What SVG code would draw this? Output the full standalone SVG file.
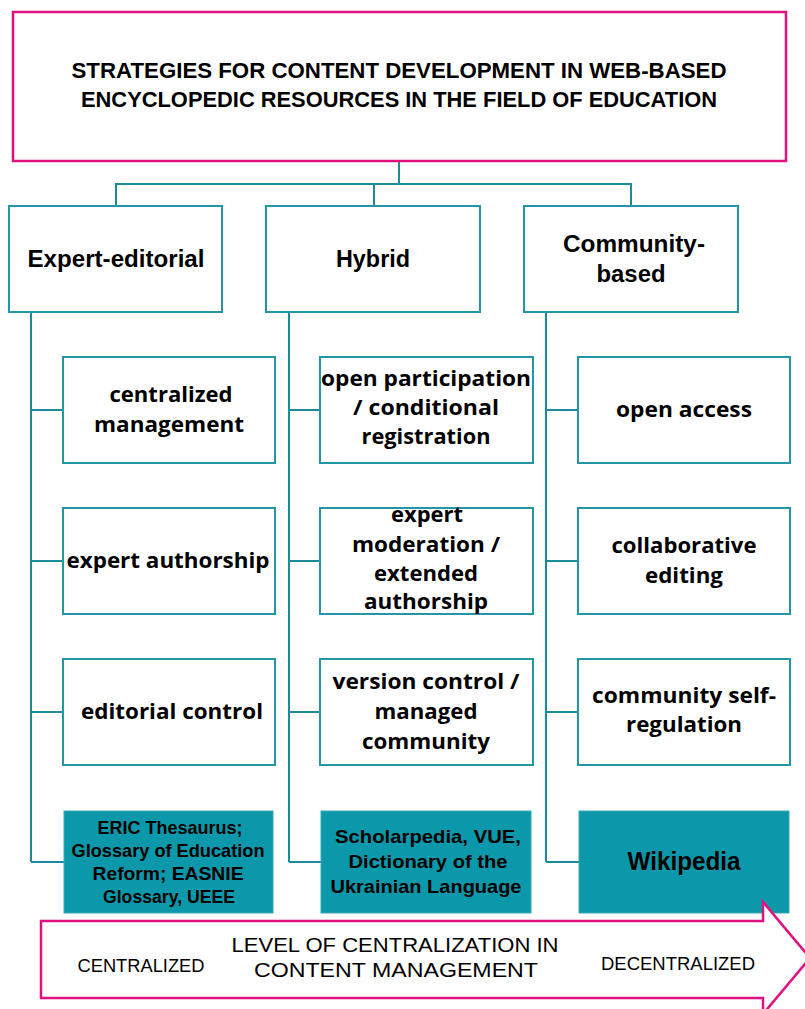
<svg xmlns="http://www.w3.org/2000/svg" width="805" height="1009" viewBox="0 0 805 1009">
  <style>
    .bg { fill: #ffffff; }
    .frame { fill: #ffffff; stroke: #e3117f; stroke-width: 2.5; }
    .box { fill: #ffffff; stroke: #2396a5; stroke-width: 2; }
    .tealbox { fill: #0b98aa; stroke: #3aa9b7; stroke-width: 1; }
    .wire { fill: none; stroke: #1a8b97; stroke-width: 2; }
    .head { font-family: "Liberation Sans", Arial, sans-serif; font-weight: bold; fill: #000; text-anchor: middle; }
    .item { font-family: "Open Sans", "Liberation Sans", sans-serif; font-weight: bold; font-size: 21px; fill: #000; text-anchor: middle; }
    .ex { font-family: "Liberation Sans", Arial, sans-serif; font-weight: bold; font-size: 19px; fill: #000; text-anchor: middle; }
    .ex.big { font-size: 25px; }
    .scale { font-family: "Liberation Sans", Arial, sans-serif; fill: #000; text-anchor: middle; }
  </style>

  <rect class="bg" x="0" y="0" width="805" height="1009"/>

  <!-- connectors -->
  <g id="connectors">
    <path class="wire" d="M399 162 V184 M116 184 H631 M116 183 V206 M374 184 V206 M631 183 V206"/>
    <path class="wire" d="M31 312 V862 M31 410 H63 M31 561 H63 M31 712 H63 M31 862 H64"/>
    <path class="wire" d="M289 312 V862 M289 410 H320 M289 561 H320 M289 712 H320 M289 862 H321"/>
    <path class="wire" d="M546 312 V862 M546 410 H578 M546 561 H578 M546 712 H578 M546 862 H579"/>
  </g>

  <!-- root -->
  <g id="root">
    <rect class="frame" x="13" y="12" width="773" height="149"/>
    <text class="head" font-size="22.5" x="399" y="78" textLength="655" lengthAdjust="spacingAndGlyphs">STRATEGIES FOR CONTENT DEVELOPMENT IN WEB-BASED</text>
    <text class="head" font-size="22.5" x="399" y="107" textLength="636" lengthAdjust="spacingAndGlyphs">ENCYCLOPEDIC RESOURCES IN THE FIELD OF EDUCATION</text>
  </g>

  <!-- strategy categories -->
  <g id="expert-editorial">
    <rect class="box" x="9" y="206" width="213" height="106"/>
    <text class="head" font-size="23" x="116" y="267" textLength="177" lengthAdjust="spacingAndGlyphs">Expert-editorial</text>
  </g>
  <g id="hybrid">
    <rect class="box" x="266" y="206" width="214" height="106"/>
    <text class="head" font-size="23" x="373" y="267" textLength="74" lengthAdjust="spacingAndGlyphs">Hybrid</text>
  </g>
  <g id="community-based">
    <rect class="box" x="524" y="206" width="214" height="106"/>
    <text class="head" font-size="23" x="634" y="252" textLength="142" lengthAdjust="spacingAndGlyphs">Community-</text>
    <text class="head" font-size="23" x="631" y="282" textLength="69" lengthAdjust="spacingAndGlyphs">based</text>
  </g>

  <!-- expert-editorial features -->
  <g id="centralized-management">
    <rect class="box" x="63" y="357" width="212" height="106"/>
    <text class="item" x="171" y="402" textLength="123" lengthAdjust="spacingAndGlyphs">centralized</text>
    <text class="item" x="169" y="432" textLength="150" lengthAdjust="spacingAndGlyphs">management</text>
  </g>
  <g id="expert-authorship">
    <rect class="box" x="63" y="508" width="212" height="106"/>
    <text class="item" x="168" y="568" textLength="203" lengthAdjust="spacingAndGlyphs">expert authorship</text>
  </g>
  <g id="editorial-control">
    <rect class="box" x="63" y="659" width="212" height="106"/>
    <text class="item" x="172" y="719" textLength="182" lengthAdjust="spacingAndGlyphs">editorial control</text>
  </g>
  <g id="eric-thesaurus">
    <rect class="tealbox" x="64" y="811" width="209" height="102"/>
    <text class="ex" x="170" y="834" textLength="145" lengthAdjust="spacingAndGlyphs">ERIC Thesaurus;</text>
    <text class="ex" x="168" y="857" textLength="193" lengthAdjust="spacingAndGlyphs">Glossary of Education</text>
    <text class="ex" x="168" y="880" textLength="151" lengthAdjust="spacingAndGlyphs">Reform; EASNIE</text>
    <text class="ex" x="169" y="903" textLength="132" lengthAdjust="spacingAndGlyphs">Glossary, UEEE</text>
  </g>

  <!-- hybrid features -->
  <g id="open-participation">
    <rect class="box" x="320" y="357" width="213" height="106"/>
    <text class="item" x="426" y="386" textLength="210" lengthAdjust="spacingAndGlyphs">open participation</text>
    <text class="item" x="426" y="415" textLength="146" lengthAdjust="spacingAndGlyphs">/ conditional</text>
    <text class="item" x="426" y="444" textLength="129" lengthAdjust="spacingAndGlyphs">registration</text>
  </g>
  <g id="expert-moderation">
    <rect class="box" x="320" y="508" width="213" height="106"/>
    <text class="item" x="427" y="522" textLength="72" lengthAdjust="spacingAndGlyphs">expert</text>
    <text class="item" x="426" y="552" textLength="148" lengthAdjust="spacingAndGlyphs">moderation /</text>
    <text class="item" x="426" y="581" textLength="104" lengthAdjust="spacingAndGlyphs">extended</text>
    <text class="item" x="426" y="609" textLength="124" lengthAdjust="spacingAndGlyphs">authorship</text>
  </g>
  <g id="version-control">
    <rect class="box" x="320" y="659" width="213" height="106"/>
    <text class="item" x="426" y="689" textLength="187" lengthAdjust="spacingAndGlyphs">version control /</text>
    <text class="item" x="426" y="719" textLength="103" lengthAdjust="spacingAndGlyphs">managed</text>
    <text class="item" x="426" y="749" textLength="128" lengthAdjust="spacingAndGlyphs">community</text>
  </g>
  <g id="scholarpedia">
    <rect class="tealbox" x="321" y="811" width="210" height="102"/>
    <text class="ex" x="428" y="843" textLength="186" lengthAdjust="spacingAndGlyphs">Scholarpedia, VUE,</text>
    <text class="ex" x="428" y="868" textLength="159" lengthAdjust="spacingAndGlyphs">Dictionary of the</text>
    <text class="ex" x="426" y="893" textLength="191" lengthAdjust="spacingAndGlyphs">Ukrainian Language</text>
  </g>

  <!-- community-based features -->
  <g id="open-access">
    <rect class="box" x="578" y="357" width="212" height="106"/>
    <text class="item" x="684" y="417" textLength="136" lengthAdjust="spacingAndGlyphs">open access</text>
  </g>
  <g id="collaborative-editing">
    <rect class="box" x="578" y="508" width="212" height="106"/>
    <text class="item" x="684" y="553" textLength="145" lengthAdjust="spacingAndGlyphs">collaborative</text>
    <text class="item" x="684" y="583" textLength="78" lengthAdjust="spacingAndGlyphs">editing</text>
  </g>
  <g id="community-self-regulation">
    <rect class="box" x="578" y="659" width="212" height="106"/>
    <text class="item" x="684" y="703" textLength="184" lengthAdjust="spacingAndGlyphs">community self-</text>
    <text class="item" x="684" y="732" textLength="116" lengthAdjust="spacingAndGlyphs">regulation</text>
  </g>
  <g id="wikipedia">
    <rect class="tealbox" x="579" y="811" width="210" height="102"/>
    <text class="ex big" x="684" y="870" textLength="113" lengthAdjust="spacingAndGlyphs">Wikipedia</text>
  </g>

  <!-- centralization scale arrow -->
  <g id="centralization-scale">
    <polygon class="frame" points="41,921 763,921 763,902 810,958 763,1014 763,998 41,998"/>
    <text class="scale" font-size="18" x="141" y="972" textLength="127" lengthAdjust="spacingAndGlyphs">CENTRALIZED</text>
    <text class="scale" font-size="21" x="395" y="952" textLength="327" lengthAdjust="spacingAndGlyphs">LEVEL OF CENTRALIZATION IN</text>
    <text class="scale" font-size="21" x="396" y="977" textLength="284" lengthAdjust="spacingAndGlyphs">CONTENT MANAGEMENT</text>
    <text class="scale" font-size="18" x="678" y="970" textLength="154" lengthAdjust="spacingAndGlyphs">DECENTRALIZED</text>
  </g>
</svg>
